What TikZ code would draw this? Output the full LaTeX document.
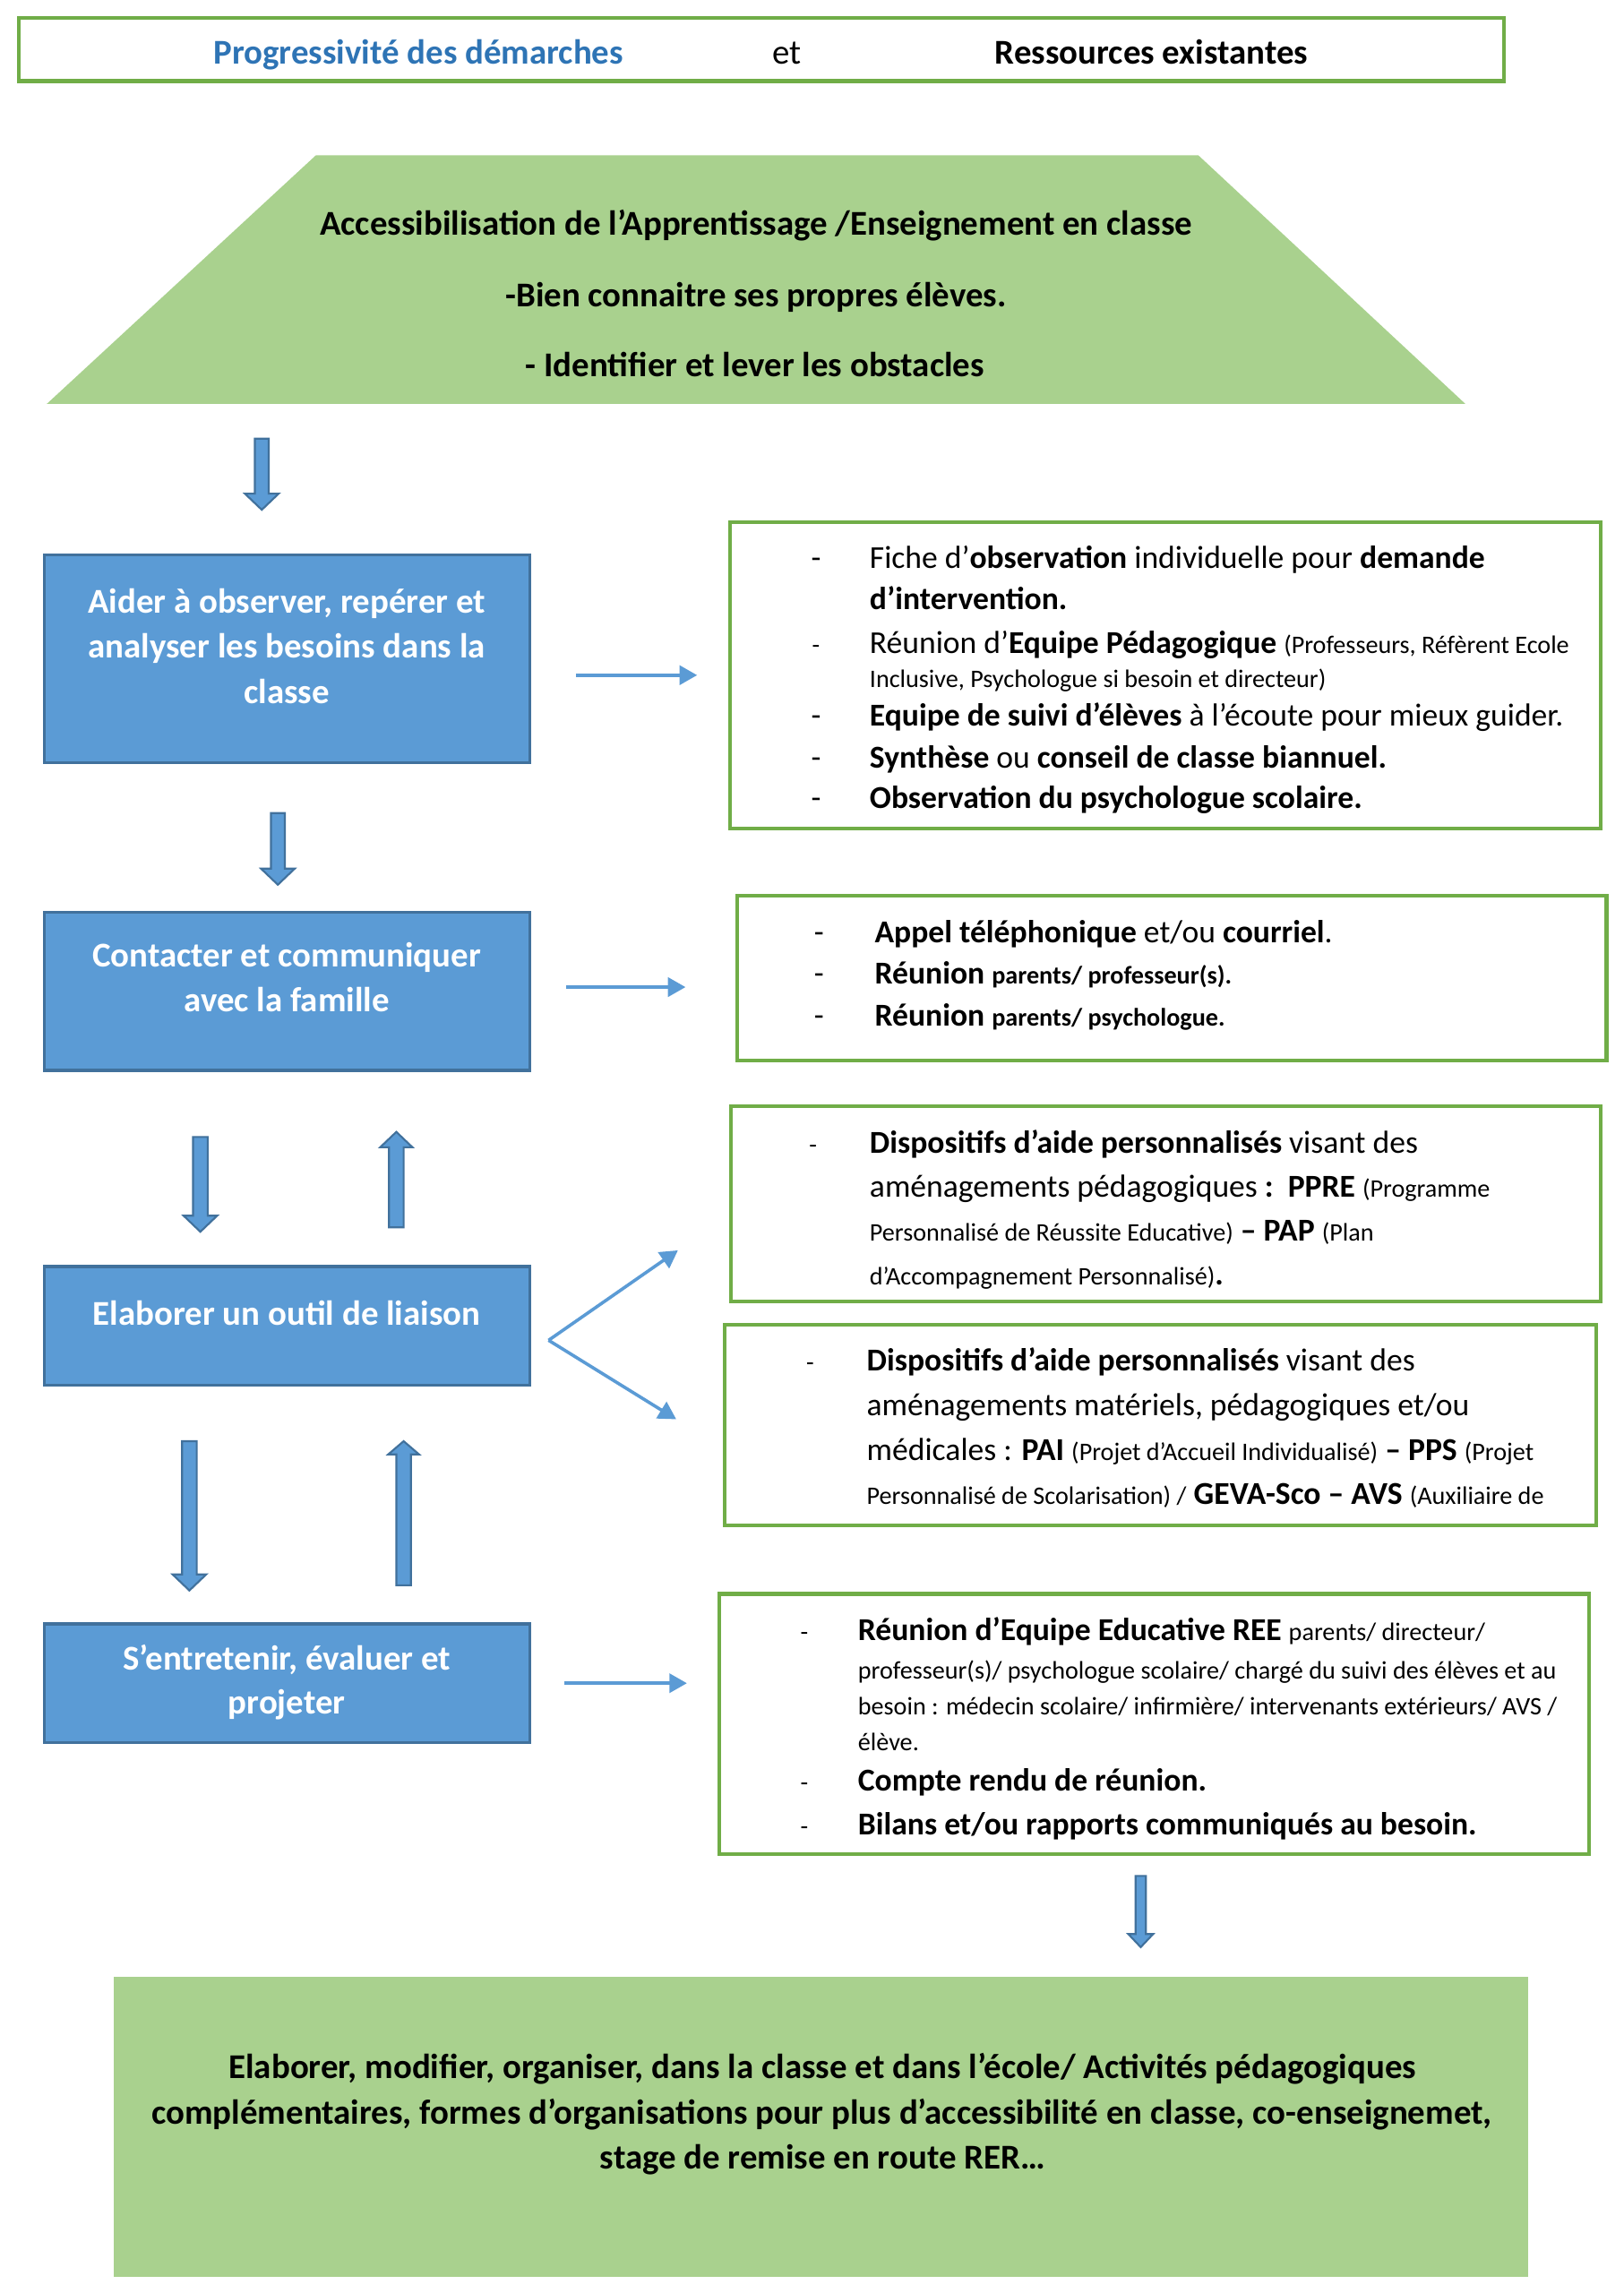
\documentclass[tikz,border=0pt]{standalone}
\usepackage{fontspec}
\setmainfont{Carlito}
\usetikzlibrary{arrows.meta,calc}
\definecolor{bfill}{HTML}{5B9BD5}
\definecolor{bdraw}{HTML}{41719C}
\definecolor{gfill}{HTML}{A9D18E}
\definecolor{gdraw}{HTML}{70AD47}
\definecolor{ttlblue}{HTML}{2E74B5}
\newcommand\smt[1]{{\fontsize{17.25}{20}\selectfont #1}}
% x, tail, tip, half shaft, half head, head length
\newcommand\dblk[6]{\filldraw[blk] (#1-#4,#2) -- (#1+#4,#2) -- (#1+#4,#3-#6) -- (#1+#5,#3-#6) -- (#1,#3) -- (#1-#5,#3-#6) -- (#1-#4,#3-#6) -- cycle;}
\newcommand\ublk[6]{\filldraw[blk] (#1-#4,#2) -- (#1+#4,#2) -- (#1+#4,#3+#6) -- (#1+#5,#3+#6) -- (#1,#3) -- (#1-#5,#3+#6) -- (#1-#4,#3+#6) -- cycle;}
\begin{document}
\begin{tikzpicture}[x=1pt,y=-1pt,
  blk/.style={fill=bfill, draw=bdraw, line width=1.3pt, line join=miter},
  bbox/.style={rectangle, fill=bfill, draw=bdraw, line width=2pt, inner sep=0pt},
  gbox/.style={rectangle, draw=gdraw, line width=2.6pt, fill=white, inner sep=0pt},
  tl/.style={inner sep=0pt, anchor=mid west, yshift=-5.5pt, font=\fontsize{21.8}{25}\selectfont},
  stl/.style={tl, font=\fontsize{17.25}{20}\selectfont},
  dsh/.style={inner sep=0pt, anchor=mid, yshift=-5.5pt, font=\fontsize{21.8}{25}\selectfont},
  sdsh/.style={dsh, font=\fontsize{17.25}{20}\selectfont},
  ctl/.style={inner sep=0pt, anchor=mid, yshift=-5.5pt, font=\fontsize{23.8}{28}\selectfont\bfseries},
  rtl/.style={ctl, font=\fontsize{23.8}{28}\selectfont},
  wtl/.style={ctl, text=white},
  thinarr/.style={draw=bfill, line width=2.2pt, -{Triangle[length=12pt,width=13pt]}},
]
\useasboundingbox (0,0) rectangle (1110,1568);
\fill[white] (0,0) rectangle (1110,1568);

% header
\node[gbox, minimum width=1015.6pt, minimum height=43.3pt] (hdr) at (520.5,33.85) {};
\node[ctl, text=ttlblue] (h1) at (286.2,36) {Progressivité des démarches};
\node[rtl] (h2) at (538,36) {et};
\node[ctl] (h3) at (787.4,36) {Ressources existantes};

% trapezoid
\fill[gfill] (216,106.2) -- (819.4,106.2) -- (1002,276.2) -- (32,276.2) -- cycle;
\node[ctl] (t1) at (517,153) {Accessibilisation de l’Apprentissage /Enseignement en classe};
\node[ctl] (t2) at (517,202) {-Bien connaitre ses propres élèves.};
\node[ctl] (t3) at (516.3,249.7) {- Identifier et lever les obstacles};

% blue boxes
\node[bbox, minimum width=332pt, minimum height=142pt] (b1) at (196.1,450.5) {};
\node[wtl] (b1a) at (196.1,411.5) {Aider à observer, repérer et};
\node[wtl] (b1b) at (196.1,442) {analyser les besoins dans la};
\node[wtl] (b1c) at (196.1,473) {classe};

\node[bbox, minimum width=332pt, minimum height=108pt] (b2) at (196.1,678) {};
\node[wtl] (b2a) at (196.1,653) {Contacter et communiquer};
\node[wtl] (b2b) at (196.1,684) {avec la famille};

\node[bbox, minimum width=332pt, minimum height=81pt] (b3) at (196.1,906.5) {};
\node[wtl] (b3a) at (196.1,898) {Elaborer un outil de liaison};

\node[bbox, minimum width=332pt, minimum height=81pt] (b4) at (196.1,1151) {};
\node[wtl] (b4a) at (196.1,1134) {S’entretenir, évaluer et};
\node[wtl] (b4b) at (196.1,1164) {projeter};

% green boxes
\node[gbox, minimum width=595pt, minimum height=209.5pt] (g1) at (796.8,461.7) {};
\node[dsh] (g1d1) at (558,380.7) {-};
\node[tl] (g1l1) at (594.5,380.7) {Fiche d’\textbf{observation} individuelle pour \textbf{demande}};
\node[tl] (g1l2) at (594.5,409.2) {\textbf{d’intervention.}};
\node[sdsh] (g1d3) at (558,438.8) {-};
\node[tl] (g1l3) at (594.5,438.8) {Réunion d’\textbf{Equipe Pédagogique} \smt{(Professeurs, Réfèrent Ecole}};
\node[stl] (g1l4) at (594.5,462.3) {Inclusive, Psychologue si besoin et directeur)};
\node[dsh] (g1d5) at (558,488.8) {-};
\node[tl] (g1l5) at (594.5,488.8) {\textbf{Equipe de suivi d’élèves} à l’écoute pour mieux guider.};
\node[dsh] (g1d6) at (558,517.4) {-};
\node[tl] (g1l6) at (594.5,517.4) {\textbf{Synthèse} ou \textbf{conseil de classe biannuel.}};
\node[dsh] (g1d7) at (558,545) {-};
\node[tl] (g1l7) at (594.5,545) {\textbf{Observation du psychologue scolaire.}};

\node[gbox, minimum width=594.7pt, minimum height=112.7pt] (g2) at (801.2,668.7) {};
\node[dsh] (g2d1) at (560,637) {-};
\node[tl] (g2l1) at (598,637) {\textbf{Appel téléphonique} et/ou \textbf{courriel}.};
\node[dsh] (g2d2) at (560,665) {-};
\node[tl] (g2l2) at (598,665) {\textbf{Réunion} \smt{\bfseries parents/ professeur(s).}};
\node[dsh] (g2d3) at (560,694) {-};
\node[tl] (g2l3) at (598,694) {\textbf{Réunion} \smt{\bfseries parents/ psychologue.}};

\node[gbox, minimum width=594.7pt, minimum height=133.5pt] (g3) at (797.2,823.3) {};
\node[sdsh] (g3d1) at (556,781) {-};
\node[tl] (g3l1) at (594.5,781) {\textbf{Dispositifs d’aide personnalisés} visant des};
\node[tl] (g3l2) at (594.5,811) {aménagements pédagogiques \textbf{:}\ \ \textbf{PPRE} \smt{(Programme}};
\node[tl] (g3l3) at (594.5,841) {\smt{Personnalisé de Réussite Educative)} \textbf{– PAP} \smt{(Plan}};
\node[tl] (g3l4) at (594.5,871) {\smt{d’Accompagnement Personnalisé)}\textbf{.}};

\node[gbox, minimum width=595.6pt, minimum height=137pt] (g4) at (793.5,974.5) {};
\node[sdsh] (g4d1) at (554,929.5) {-};
\node[tl] (g4l1) at (592.5,929.5) {\textbf{Dispositifs d’aide personnalisés} visant des};
\node[tl] (g4l2) at (592.5,960) {aménagements matériels, pédagogiques et/ou};
\node[tl] (g4l3) at (592.5,990.5) {médicales : \textbf{PAI} \smt{(Projet d’Accueil Individualisé)} \textbf{– PPS} \smt{(Projet}};
\node[tl] (g4l4) at (592.5,1021) {\smt{Personnalisé de Scolarisation) /} \textbf{GEVA-Sco – AVS} \smt{(Auxiliaire de}};

\node[gbox, minimum width=594.8pt, minimum height=178pt] (g5) at (789.1,1179) {};
\node[sdsh] (g5d1) at (550,1114) {-};
\node[tl] (g5l1) at (586.5,1114) {\textbf{Réunion d’Equipe Educative REE} \smt{parents/ directeur/}};
\node[stl] (g5l2) at (586.5,1140) {professeur(s)/ psychologue scolaire/ chargé du suivi des élèves et au};
\node[stl] (g5l3) at (586.5,1164.5) {besoin : médecin scolaire/ infirmière/ intervenants extérieurs/ AVS /};
\node[stl] (g5l4) at (586.5,1189) {élève.};
\node[sdsh] (g5d5) at (550,1216.5) {-};
\node[tl] (g5l5) at (586.5,1216.5) {\textbf{Compte rendu de réunion.}};
\node[sdsh] (g5d6) at (550,1246.5) {-};
\node[tl] (g5l6) at (586.5,1246.5) {\textbf{Bilans et/ou rapports communiqués au besoin.}};

% final box
\node[rectangle, fill=gfill, inner sep=0pt, minimum width=967pt, minimum height=205pt] (fin) at (561.5,1454.5) {};
\node[ctl] (f1) at (562.4,1413.7) {Elaborer, modifier, organiser, dans la classe et dans l’école/ Activités pédagogiques};
\node[ctl] (f2) at (562,1444.5) {complémentaires, formes d’organisations pour plus d’accessibilité en classe, co-enseignemet,};
\node[ctl] (f3) at (562.5,1475.5) {stage de remise en route RER…};

% block arrows
\dblk{179}{300}{348.6}{4.75}{11.5}{11}
\dblk{190}{556}{605}{4.75}{11.5}{11}
\dblk{137}{777.5}{842.3}{5}{11.5}{11}
\ublk{271}{839.3}{774}{5}{11}{10.5}
\dblk{129.5}{985.5}{1087.6}{5}{11.5}{11}
\ublk{276}{1084}{985.5}{5}{10.5}{9}
\dblk{780}{1282.8}{1331.5}{3.5}{8.5}{9}

% thin arrows
\draw[thinarr] ([xshift=31pt]b1.east |- g1.west) -- ([xshift=-21.3pt]g1.west);
\draw[thinarr] ([xshift=24pt,yshift=3pt]b2.east) -- ([xshift=-33.8pt,yshift=-6.3pt]g2.west);
\coordinate (fork) at ([xshift=12pt,yshift=-10pt]b3.east);
\draw[thinarr] (fork) -- ([xshift=-35pt,yshift=-31.7pt]g3.west);
\draw[thinarr] (fork) -- ([xshift=-32pt,yshift=4pt]g4.west);
\draw[thinarr] ([xshift=23pt]b4.east) -- ([xshift=-20.7pt]g5.west |- b4.east);
\end{tikzpicture}
\end{document}
